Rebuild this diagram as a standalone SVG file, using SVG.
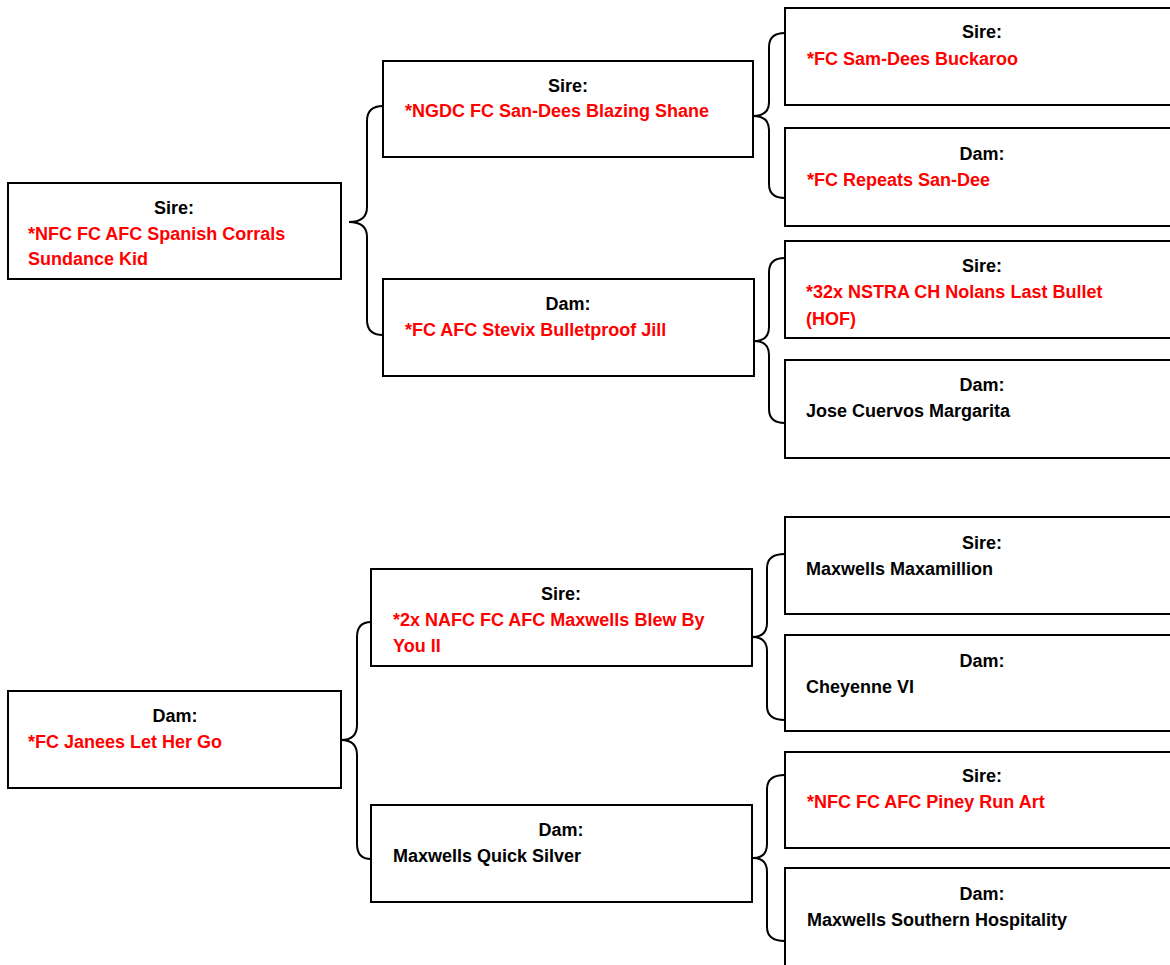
<svg xmlns="http://www.w3.org/2000/svg" width="1170" height="965" viewBox="0 0 1170 965">
<style>
.box{fill:#fff;stroke:#000;stroke-width:2}
.br{fill:none;stroke:#000;stroke-width:2}
text{font-family:"Liberation Sans",Arial,sans-serif;font-weight:bold;font-size:18px}
.h{text-anchor:middle;fill:#000}
.r{fill:#ff0000}
.k{fill:#000}
</style>
<rect width="1170" height="965" fill="#fff"/>
<g id="connectors">
<path class="br" d="M383,106 Q367,106 367,121 L367,207 Q367,222 349,222 Q367,222 367,237 L367,320 Q367,335 383,335"/>
<path class="br" d="M371,622 Q357,622 357,637 L357,725 Q357,740 341,740 Q357,740 357,755 L357,844 Q357,859 371,859"/>
<path class="br" d="M785,33 Q769,33 769,47 L769,102 Q769,116 753,116 Q769,116 769,130 L769,184 Q769,198 785,198"/>
<path class="br" d="M785,258 Q769,258 769,272 L769,327 Q769,341 754,341 Q769,341 769,355 L769,409 Q769,423 785,423"/>
<path class="br" d="M785,554 Q767,554 767,568 L767,623 Q767,637 752,637 Q767,637 767,651 L767,706 Q767,720 785,720"/>
<path class="br" d="M785,775 Q767,775 767,789 L767,844 Q767,858 753,858 Q767,858 767,872 L767,927 Q767,941 785,941"/>
</g>
<g id="n-root-sire">
<rect class="box" x="8" y="183" width="333" height="96"/>
<text class="h" x="174" y="214">Sire:</text>
<text class="r" x="28" y="240">*NFC FC AFC Spanish Corrals</text>
<text class="r" x="28" y="265">Sundance Kid</text>
</g>
<g id="n-root-dam">
<rect class="box" x="8" y="691" width="333" height="97"/>
<text class="h" x="175" y="722">Dam:</text>
<text class="r" x="28" y="748">*FC Janees Let Her Go</text>
</g>
<g id="n-ss">
<rect class="box" x="383" y="61" width="370" height="96"/>
<text class="h" x="568" y="92">Sire:</text>
<text class="r" x="405" y="117">*NGDC FC San-Dees Blazing Shane</text>
</g>
<g id="n-sd">
<rect class="box" x="383" y="279" width="371" height="97"/>
<text class="h" x="568" y="310">Dam:</text>
<text class="r" x="405" y="336">*FC AFC Stevix Bulletproof Jill</text>
</g>
<g id="n-ds">
<rect class="box" x="371" y="569" width="381" height="97"/>
<text class="h" x="561" y="600">Sire:</text>
<text class="r" x="393" y="626">*2x NAFC FC AFC Maxwells Blew By</text>
<text class="r" x="393" y="652">You II</text>
</g>
<g id="n-dd">
<rect class="box" x="371" y="805" width="381" height="97"/>
<text class="h" x="561" y="836">Dam:</text>
<text class="k" x="393" y="862">Maxwells Quick Silver</text>
</g>
<g id="n-sss">
<rect class="box" x="785" y="8" width="396" height="97"/>
<text class="h" x="982" y="38">Sire:</text>
<text class="r" x="807" y="65">*FC Sam-Dees Buckaroo</text>
</g>
<g id="n-ssd">
<rect class="box" x="785" y="128" width="396" height="98"/>
<text class="h" x="982" y="160">Dam:</text>
<text class="r" x="807" y="186">*FC Repeats San-Dee</text>
</g>
<g id="n-sds">
<rect class="box" x="785" y="241" width="396" height="97"/>
<text class="h" x="982" y="272">Sire:</text>
<text class="r" x="806" y="298">*32x NSTRA CH Nolans Last Bullet</text>
<text class="r" x="806" y="325">(HOF)</text>
</g>
<g id="n-sdd">
<rect class="box" x="785" y="360" width="396" height="98"/>
<text class="h" x="982" y="391">Dam:</text>
<text class="k" x="806" y="417">Jose Cuervos Margarita</text>
</g>
<g id="n-dss">
<rect class="box" x="785" y="517" width="396" height="97"/>
<text class="h" x="982" y="549">Sire:</text>
<text class="k" x="806" y="575">Maxwells Maxamillion</text>
</g>
<g id="n-dsd">
<rect class="box" x="785" y="635" width="396" height="96"/>
<text class="h" x="982" y="667">Dam:</text>
<text class="k" x="806" y="693">Cheyenne VI</text>
</g>
<g id="n-dds">
<rect class="box" x="785" y="752" width="396" height="96"/>
<text class="h" x="982" y="782">Sire:</text>
<text class="r" x="807" y="808">*NFC FC AFC Piney Run Art</text>
</g>
<g id="n-ddd">
<rect class="box" x="785" y="868" width="396" height="110"/>
<text class="h" x="982" y="900">Dam:</text>
<text class="k" x="807" y="926">Maxwells Southern Hospitality</text>
</g>
</svg>
